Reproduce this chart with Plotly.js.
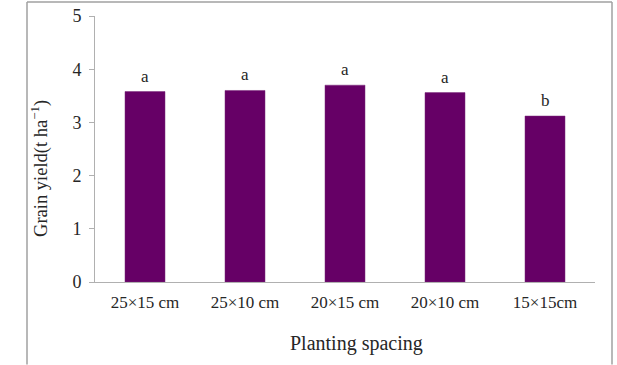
<!DOCTYPE html>
<html>
<head>
<meta charset="utf-8">
<script src="https://cdn.plot.ly/plotly-3.0.1.min.js"></script>
<style>
  html, body { margin: 0; padding: 0; background: #fff; }
  #chart { width: 617px; height: 365px; }
</style>
</head>
<body>
<div id="chart"></div>
<script>
// Grain yield by planting spacing, with mean-separation letters
const spacings = ['25×15 cm', '25×10 cm', '20×15 cm', '20×10 cm', '15×15cm'];
const grainYield = [3.58, 3.60, 3.70, 3.56, 3.12];
const groupLetters = ['a', 'a', 'a', 'a', 'b'];

const serif = "'Liberation Serif', 'Times New Roman', serif";
const barColor = '#660066';
const inkColor = '#262626';

const trace = {
  type: 'bar',
  x: spacings,
  y: grainYield,
  width: 0.4,
  marker: { color: barColor, line: { color: '#7a2a7a', width: 0.5 } },
  hoverinfo: 'x+y'
};

const letterNotes = spacings.map((s, i) => ({
  x: s,
  y: grainYield[i],
  xref: 'x',
  yref: 'y',
  text: groupLetters[i],
  showarrow: false,
  yanchor: 'bottom',
  yshift: 4,
  font: { family: serif, size: 17, color: inkColor }
}));

const axisTitles = [
  {
    xref: 'paper', yref: 'paper',
    x: -0.11, y: 0.425,
    xanchor: 'center', yanchor: 'middle',
    textangle: -90,
    text: 'Grain yield(t ha<sup>−1</sup>)',
    showarrow: false,
    font: { family: serif, size: 18.5, color: inkColor }
  },
  {
    xref: 'paper', yref: 'paper',
    x: 0.522, y: -0.23,
    xanchor: 'center', yanchor: 'middle',
    text: 'Planting spacing',
    showarrow: false,
    font: { family: serif, size: 20, color: inkColor }
  }
];

const layout = {
  width: 617,
  height: 365,
  margin: { l: 95, r: 22, t: 16, b: 83 },
  paper_bgcolor: '#fff',
  plot_bgcolor: '#fff',
  showlegend: false,
  font: { family: serif, color: inkColor },
  xaxis: {
    type: 'category',
    showline: true,
    linecolor: '#b0b0b0',
    linewidth: 1,
    ticks: '',
    showgrid: false,
    zeroline: false,
    tickfont: { family: serif, size: 17, color: inkColor },
    ticklabelstandoff: 5
  },
  yaxis: {
    range: [0, 5],
    dtick: 1,
    showline: true,
    linecolor: '#b0b0b0',
    linewidth: 1,
    ticks: 'outside',
    ticklen: 5,
    tickcolor: '#b0b0b0',
    showgrid: false,
    zeroline: false,
    tickfont: { family: serif, size: 18, color: inkColor },
    ticklabelstandoff: 4
  },
  annotations: letterNotes.concat(axisTitles),
  shapes: [
    // outer frame around the figure (left, top, right edges)
    { type: 'line', xref: 'paper', yref: 'paper', x0: -0.136, x1: -0.136, y0: -0.31, y1: 1.053,
      line: { color: '#a0a0a0', width: 1.5 } },
    { type: 'line', xref: 'paper', yref: 'paper', x0: -0.136, x1: 1.034, y0: 1.053, y1: 1.053,
      line: { color: '#a0a0a0', width: 1.5 } },
    { type: 'line', xref: 'paper', yref: 'paper', x0: 1.034, x1: 1.034, y0: -0.31, y1: 1.053,
      line: { color: '#a0a0a0', width: 1.5 } }
  ]
};

Plotly.newPlot('chart', [trace], layout, { displayModeBar: false, staticPlot: true });
</script>
</body>
</html>
